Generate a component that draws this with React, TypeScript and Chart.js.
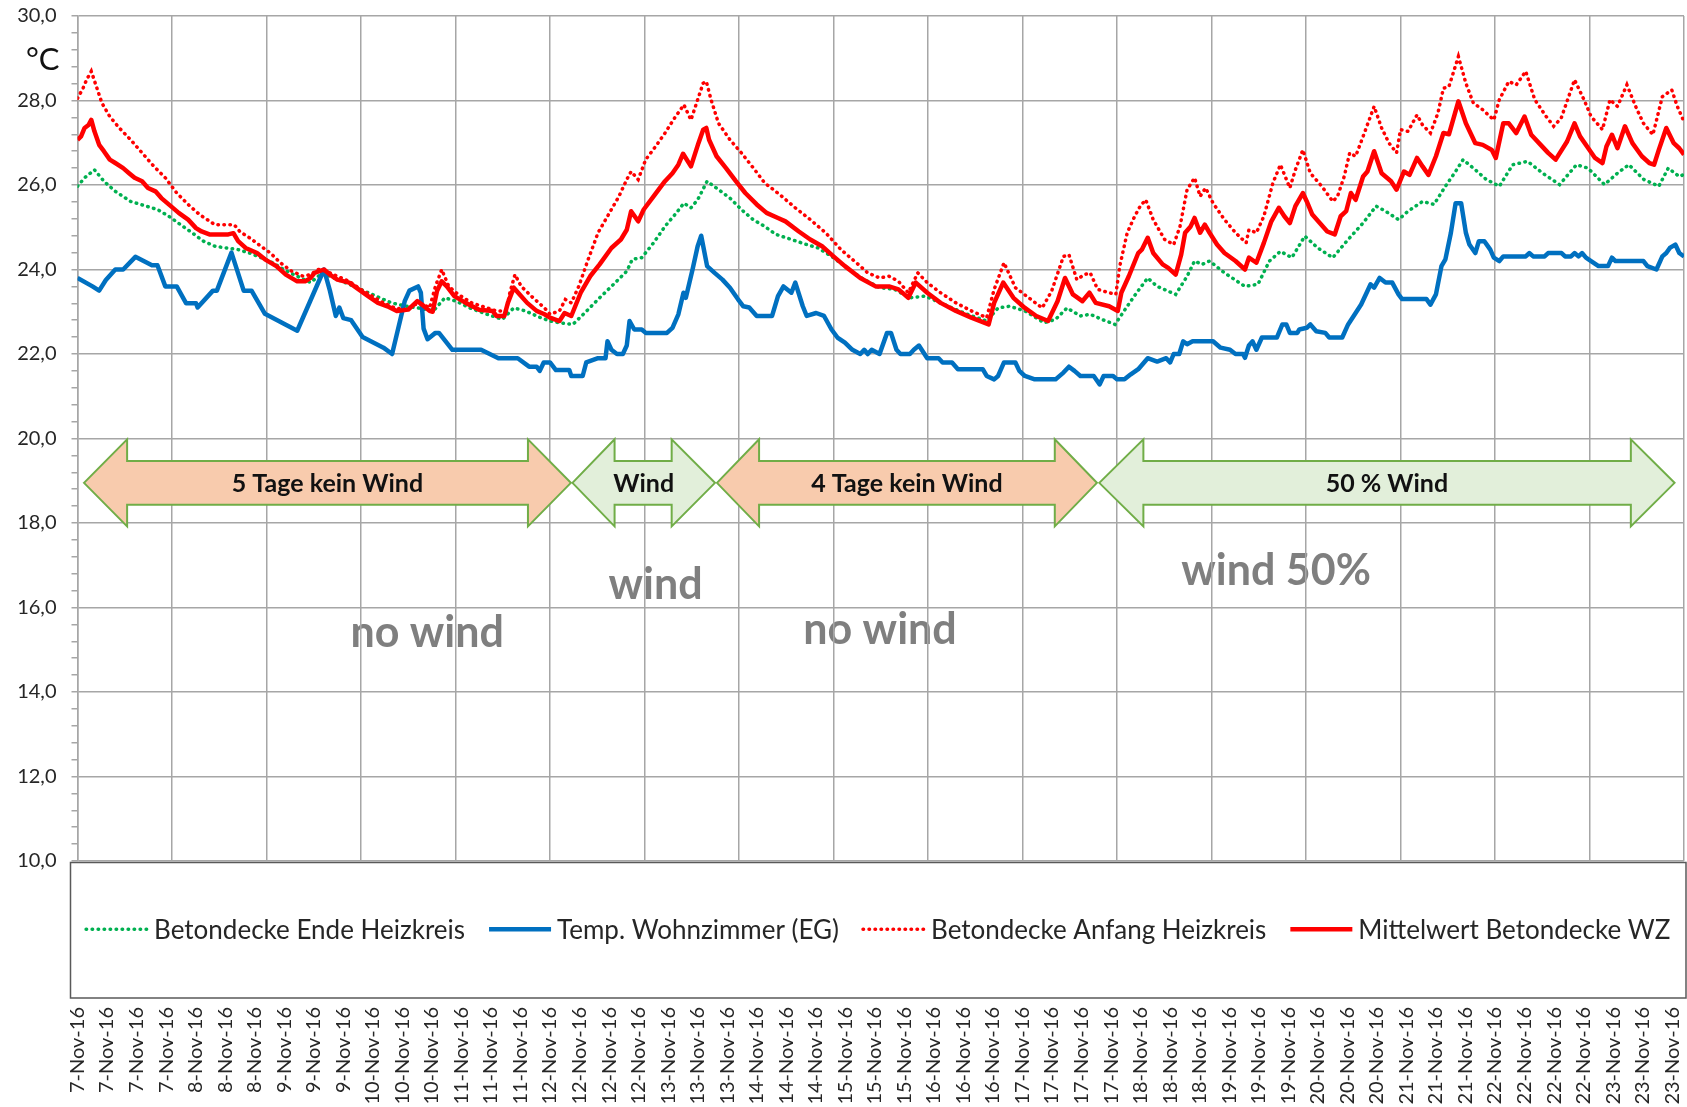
import React, { useEffect, useRef } from "react";
import { Chart, registerables } from "chart.js";

Chart.register(...registerables);

// ---------- category (tick) labels: one every 7.5 h, starting 7-Nov-16 00:00 ----------
const xLabels = [
  "7-Nov-16", "7-Nov-16", "7-Nov-16", "7-Nov-16",
  "8-Nov-16", "8-Nov-16", "8-Nov-16",
  "9-Nov-16", "9-Nov-16", "9-Nov-16",
  "10-Nov-16", "10-Nov-16", "10-Nov-16",
  "11-Nov-16", "11-Nov-16", "11-Nov-16",
  "12-Nov-16", "12-Nov-16", "12-Nov-16", "12-Nov-16",
  "13-Nov-16", "13-Nov-16", "13-Nov-16",
  "14-Nov-16", "14-Nov-16", "14-Nov-16",
  "15-Nov-16", "15-Nov-16", "15-Nov-16",
  "16-Nov-16", "16-Nov-16", "16-Nov-16",
  "17-Nov-16", "17-Nov-16", "17-Nov-16", "17-Nov-16",
  "18-Nov-16", "18-Nov-16", "18-Nov-16",
  "19-Nov-16", "19-Nov-16", "19-Nov-16",
  "20-Nov-16", "20-Nov-16", "20-Nov-16",
  "21-Nov-16", "21-Nov-16", "21-Nov-16",
  "22-Nov-16", "22-Nov-16", "22-Nov-16", "22-Nov-16",
  "23-Nov-16", "23-Nov-16", "23-Nov-16",
];
const LABEL_STEP_H = 7.5;
const GRID_STEP_H = 24;
const X_MAX_H = 408;
const yTickLabels = ["10,0", "12,0", "14,0", "16,0", "18,0", "20,0", "22,0", "24,0", "26,0", "28,0", "30,0"];

// ---------- series (hours since 7-Nov-16 00:00, °C) ----------
const endeHours = [0, 1.8, 4.3, 6.7, 9.6, 13.5, 17.4, 20.3, 23.2, 26.2, 29.1, 32, 34.9, 37.8, 40.8, 43.7, 46.6, 49.5, 52.4, 55.8, 59.2, 62.2, 65.1, 68, 71.9, 75.8, 79.7, 83.6, 86.5, 90.4, 93.3, 96.2, 99.6, 104, 107.9, 110.8, 113.7, 117.6,
  120, 122.4, 125.8, 128.8, 132.6, 135.6, 139.5, 140.9, 143.3, 146.3, 149.2, 152.1, 154, 155.8, 157.5, 159.9, 162.8, 165.7, 168.6, 171.6, 174.5, 177.4, 181.3, 185.2, 188.1, 192, 195.9, 199.8, 203.7, 207.5, 211.4, 215.3, 218.2, 222.1, 226, 230.9, 233.8, 236.7, 240.6, 245.5, 248.4, 251.3, 254.7, 257.2, 260.1, 263.5,
  266.6, 269, 271.8, 274.2, 278.9, 281.8, 283.7, 285.6, 287.5, 291.3, 296.5, 299.8, 302.7, 305.5, 308.4, 311.7, 315, 318.8, 322.7, 326.5, 329.8, 332.2, 335.5, 337.9, 341.6, 344.5, 347.4, 349.7, 351.9, 355, 357.8, 361.1, 364.5, 368.3, 372.1, 376.4, 380.7, 383.6, 387.8, 391.1, 394, 397.8, 401.6, 404, 406.8, 408];
const endeValues = [25.97, 26.17, 26.36, 26.09, 25.85, 25.61, 25.5, 25.42, 25.26, 25.06, 24.87, 24.67, 24.55, 24.51, 24.47, 24.39, 24.28, 24.16, 24.0, 23.84, 23.69, 23.92, 23.8, 23.69, 23.53, 23.37, 23.21, 23.13, 23.09, 23.02, 23.33, 23.25, 23.09, 22.94, 22.82, 23.09, 23.02, 22.86,
  22.78, 22.74, 22.7, 22.97, 23.33, 23.6, 23.96, 24.24, 24.28, 24.63, 25.02, 25.34, 25.57, 25.46, 25.65, 26.09, 25.89, 25.69, 25.42, 25.18, 25.02, 24.83, 24.71, 24.59, 24.51, 24.28, 24.0, 23.76, 23.57, 23.53, 23.33, 23.37, 23.25, 23.09, 22.94, 22.78, 23.09, 23.13, 23.02, 22.74, 22.82, 23.09, 22.9, 22.94, 22.82, 22.7,
  23.13, 23.45, 23.8, 23.6, 23.41, 23.84, 24.2, 24.12, 24.2, 23.92, 23.6, 23.65, 24.2, 24.43, 24.28, 24.79, 24.51, 24.28, 24.71, 25.1, 25.5, 25.38, 25.18, 25.38, 25.61, 25.54, 25.97, 26.28, 26.6, 26.36, 26.13, 25.97, 26.48, 26.56, 26.28, 26.01, 26.48, 26.4, 26.01, 26.28, 26.48, 26.13, 25.97, 26.4, 26.2, 26.25];

const tempHours = [0, 3.8, 5.5, 7.2, 9.6, 11.6, 14.7, 18.9, 20.3, 22.3, 25.2, 27.6, 30.1, 30.5, 34.4, 35.4, 39.1, 42.2, 44.2, 47.6, 55.8, 62.6, 64.1, 65.6, 66.5, 67.5, 69.5, 72.4, 77.7, 79.9, 83.1, 84.3, 86.5, 87.2, 87.9, 88.9, 90.9, 91.8, 95.2, 102.5, 106.9, 111.8, 114.7, 116.6, 117.4, 118.4, 120,
  121.5, 124.9, 125.4, 128.3, 129.2, 132.2, 134.1, 134.6, 135.6, 137, 138.5, 139.5, 140.2, 141.4, 143.3, 144.3, 149.7, 151.1, 152.6, 153.9, 154.5, 156.2, 157.5, 158.4, 159.9, 161.8, 163.8, 165.7, 167.7, 169.1, 170.6, 172.5, 176.4, 177.9, 179.3, 181.3, 182.3, 184.2, 185.2, 187.6, 189.6, 191.5, 193, 194.9, 196.8, 198.8, 199.8, 200.7, 201.7, 203.7, 205.6, 206.6, 208, 209, 211.4, 212.4, 213.7, 215.8, 218.7, 219.7, 222.1, 223.6, 229.9, 230.9, 232.8, 233.8, 235.3, 238.2, 239.2, 240.6, 243.1, 248.4, 250.4, 251.8, 253.2, 254.7, 258.1, 259.6, 260.6, 263, 264, 265.9,
  267.5, 269.4, 271.8, 274.2, 276.5, 277.5, 278.4, 279.8, 280.8, 281.8, 283.2, 288.4, 290.3, 292.7, 294.1, 296, 296.5, 297.5, 298.4, 299.4, 300.8, 304.6, 306, 307, 307.9, 309.8, 310.3, 312.2, 313.1, 314.6, 316.9, 317.9, 321.2, 322.7, 324.6, 326, 327.4, 328.4, 329.3, 330.7, 332.2, 333.9, 335.5, 336.4, 342.6, 343.6, 345, 346.4, 347.4, 348.8, 350, 351.4, 352.6, 353.5, 355, 355.9, 357.3, 358.8, 359.7, 361.1, 362.1, 367.8, 368.7, 369.7, 372.6, 373.5, 376.9, 377.8, 379.3, 380.2, 381.2, 382.1, 383.1, 384.4, 386.3, 388.7, 389.7, 390.6, 397.7, 398.7, 401, 402.5, 403.5, 404.4, 405.8, 406.8, 408];
const tempValues = [23.8, 23.6, 23.5, 23.75, 24.0, 24.0, 24.3, 24.1, 24.1, 23.6, 23.6, 23.2, 23.2, 23.1, 23.5, 23.5, 24.4, 23.5, 23.5, 22.95, 22.55, 24.0, 23.5, 22.9, 23.1, 22.85, 22.8, 22.4, 22.15, 22.0, 23.25, 23.5, 23.6, 23.45, 22.6, 22.35, 22.5, 22.5, 22.1, 22.1, 21.9, 21.9, 21.7, 21.7, 21.6, 21.8, 21.8,
  21.62, 21.62, 21.48, 21.48, 21.8, 21.9, 21.9, 22.3, 22.1, 22.0, 22.0, 22.2, 22.78, 22.58, 22.58, 22.5, 22.5, 22.62, 22.94, 23.45, 23.33, 24.0, 24.55, 24.8, 24.08, 23.92, 23.76, 23.57, 23.3, 23.13, 23.1, 22.9, 22.9, 23.37, 23.6, 23.45, 23.69, 23.13, 22.9, 22.97, 22.9, 22.58, 22.39, 22.27, 22.1, 22.0, 22.1, 22.0, 22.1, 22.0, 22.5, 22.5, 22.1, 22.0, 22.0, 22.1, 22.2, 21.9, 21.9, 21.8, 21.8, 21.64, 21.64, 21.48, 21.4, 21.48, 21.8, 21.8, 21.6, 21.48, 21.4, 21.4, 21.56, 21.7, 21.6, 21.48, 21.48, 21.28, 21.48, 21.48, 21.4, 21.4,
  21.52, 21.64, 21.9, 21.82, 21.9, 21.8, 22.0, 22.0, 22.3, 22.23, 22.3, 22.3, 22.15, 22.1, 22.0, 22.0, 21.91, 22.2, 22.3, 22.1, 22.39, 22.39, 22.7, 22.7, 22.5, 22.5, 22.58, 22.62, 22.7, 22.54, 22.5, 22.39, 22.39, 22.7, 22.97, 23.17, 23.45, 23.65, 23.57, 23.8, 23.69, 23.69, 23.41, 23.3, 23.3, 23.17, 23.41, 24.08, 24.24, 24.87, 25.57, 25.57, 24.87, 24.59, 24.39, 24.67, 24.67, 24.47, 24.28, 24.2, 24.31, 24.31, 24.39, 24.31, 24.31, 24.39, 24.39, 24.31, 24.31, 24.39, 24.31, 24.39, 24.28, 24.2, 24.08, 24.08, 24.28, 24.2, 24.2, 24.08, 24.0, 24.31, 24.39, 24.51, 24.59, 24.39, 24.31];

const anfangHours = [0, 1.4, 2.3, 3.5, 4.8, 6.2, 8.2, 10.6, 13.5, 16.4, 19.4, 22.3, 25.2, 28.1, 31, 34.9, 39.8, 41.2, 43.7, 46.6, 49, 51.5, 54.4, 57.3, 59.2, 61.2, 63.1, 66, 69, 71.9, 74.8, 77.7, 80.6, 83.6, 85.5, 88, 89.4, 90.9, 92.5, 94.3, 96.7, 100.1, 104, 106.4, 108.9, 109.8, 111.1, 112.7, 115.7, 118.6,
  120, 122.4, 123.9, 125.4, 127.3, 129.7, 132.2, 135.1, 137.5, 139.5, 140.6, 142.4, 144.3, 146.8, 149.2, 151.6, 154, 155.8, 157.5, 158.9, 159.7, 160.9, 162.8, 165.7, 168.6, 172, 174.5, 178.4, 182.3, 186.1, 190, 193.9, 197.8, 200.7, 203.7, 206.1, 208.5, 211, 213.4, 215.8, 219.2, 223.1, 227, 230.9, 232.8, 235.3, 238.2, 241.6, 245, 247.4, 250.4, 251.8, 253.8, 255.7, 257.2, 259.1, 262, 263.7,
  264.7, 266.6, 268.5, 269.9, 271.3, 273.2, 276.1, 278.4, 280, 281.8, 283.7, 285.1, 286.5, 288.4, 291.3, 294.1, 296.8, 297.5, 299.4, 301.3, 303.6, 305.5, 307.9, 309.3, 311.2, 313.1, 316, 318.8, 320, 321.7, 323.1, 324.6, 326.5, 329.3, 331.2, 333.1, 335, 336, 337.9, 340.2, 341.6, 343.6, 345.5, 346.9, 348.3, 350.7, 352.6, 354.5, 356.9, 359.7, 361.1, 363.5, 365.4, 367.8, 370.1, 373, 374.9, 376.8, 380.2, 382.6, 384.4, 387.3, 389.2, 391.1, 393.5, 395.9, 397.7, 400.1, 402.5, 404.9, 406.3, 408];
const anfangValues = [28.05, 28.29, 28.49, 28.69, 28.33, 27.94, 27.62, 27.35, 27.07, 26.76, 26.44, 26.17, 25.81, 25.54, 25.3, 25.06, 25.06, 24.9, 24.75, 24.55, 24.39, 24.16, 23.96, 23.84, 23.88, 24.0, 23.96, 23.84, 23.72, 23.53, 23.37, 23.21, 23.09, 23.05, 23.17, 23.17, 23.09, 23.6, 24.0, 23.6, 23.41, 23.21, 23.09, 23.02, 23.02, 23.45, 23.88, 23.6, 23.33, 23.09,
  22.94, 23.02, 23.29, 23.21, 23.6, 24.24, 24.87, 25.34, 25.73, 26.13, 26.32, 26.13, 26.6, 26.91, 27.23, 27.58, 27.9, 27.54, 28.02, 28.41, 28.45, 28.02, 27.46, 27.07, 26.76, 26.36, 26.05, 25.77, 25.46, 25.18, 24.87, 24.47, 24.16, 23.92, 23.8, 23.84, 23.72, 23.45, 23.92, 23.69, 23.45, 23.21, 23.02, 22.86, 23.53, 24.16, 23.57, 23.33, 23.09, 23.49, 24.31, 24.35, 23.76, 23.88, 23.92, 23.53, 23.45, 23.41,
  24.08, 24.87, 25.26, 25.5, 25.65, 25.18, 24.71, 24.59, 25.02, 25.89, 26.17, 25.73, 25.93, 25.57, 25.18, 24.87, 24.63, 24.94, 24.87, 25.26, 26.05, 26.48, 25.93, 26.36, 26.83, 26.28, 25.97, 25.61, 25.73, 26.2, 26.76, 26.68, 27.15, 27.86, 27.35, 26.99, 26.76, 27.31, 27.27, 27.66, 27.42, 27.23, 27.7, 28.29, 28.33, 29.04, 28.41, 27.94, 27.78, 27.54, 28.02, 28.45, 28.37, 28.69, 28.02, 27.62, 27.39, 27.58, 28.49, 28.02, 27.62, 27.31, 28.02, 27.86, 28.37, 27.82, 27.46, 27.19, 28.09, 28.25, 27.86, 27.5];

const mittelHours = [0, 0.9, 1.8, 2.8, 3.5, 4.3, 5.5, 6.7, 8.2, 9.6, 11.6, 13.1, 14.5, 16.4, 17.9, 19.8, 21.3, 23.7, 25.7, 28.1, 30.1, 31.5, 33.5, 38.3, 39.6, 40.8, 42.7, 45.6, 47.6, 50.5, 52.9, 55.8, 57.8, 59.2, 60.2, 62.6, 64.1, 66, 69, 71.4, 73.8, 76.3, 78.7, 81.1, 84, 86.3, 87.5, 89.4, 90.2, 91.3, 92.5, 93.8, 95.7, 98.6, 102, 105.4, 106.4, 108.4, 109.3, 110.8, 112.3, 114.2, 116.6, 118.6,
  120, 122.4, 123.7, 125.4, 127.8, 130.2, 132.6, 135.6, 138, 139.5, 140.6, 142.4, 143.8, 146.3, 149.2, 151.1, 152.6, 153.8, 155.8, 157.7, 158.9, 159.7, 160.4, 162.3, 164.7, 167.2, 169.6, 172.5, 175, 177.9, 179.8, 183.2, 186.1, 189.1, 192, 194.9, 198.8, 202.7, 206.1, 208.5, 211, 212.9, 215.8, 219.2, 223.1, 227, 231.4, 232.8, 235.1, 237.7, 240.6, 243.5, 246.5, 248.9, 250.8, 252.8, 255.2, 257, 258.6, 262, 264.2,
  265.1, 267, 269.4, 270.3, 271.8, 273.2, 275.6, 277, 278.9, 280.3, 281.3, 282.7, 283.7, 285.1, 286.3, 287.5, 289.4, 291.3, 294.1, 296.5, 297.5, 299.4, 301.3, 303.2, 305.1, 306.5, 307.9, 309.3, 311.2, 312.2, 313.6, 315.5, 317.4, 319.3, 320.8, 322.2, 323.4, 324.6, 326.5, 327.6, 329.3, 331.2, 333.6, 335, 336.9, 338.3, 340.2, 341.6, 343.1, 345, 346.9, 348.3, 350.7, 352.6, 355, 356.9, 359.2, 360.2, 362.1, 363.5, 365.4, 367.5, 369.2, 371.6, 373.5, 375.4, 378.3, 380.2, 381.6, 384, 385.4, 387.3, 388.3, 389.7, 391.1, 393, 394.9, 397.3, 399.2, 400.4, 401.6, 403.5, 405.4, 406.8, 408];
const mittelValues = [27.07, 27.15, 27.35, 27.42, 27.54, 27.27, 26.95, 26.8, 26.6, 26.52, 26.4, 26.28, 26.17, 26.09, 25.93, 25.85, 25.69, 25.5, 25.34, 25.18, 24.98, 24.9, 24.83, 24.83, 24.86, 24.67, 24.51, 24.39, 24.24, 24.08, 23.88, 23.72, 23.72, 23.8, 23.92, 24.0, 23.88, 23.76, 23.69, 23.53, 23.37, 23.21, 23.13, 23.02, 23.05, 23.25, 23.17, 23.02, 23.0, 23.49, 23.72, 23.6, 23.37, 23.21, 23.05, 23.02, 22.9, 22.9, 23.21, 23.57, 23.41, 23.21, 23.02, 22.94,
  22.86, 22.78, 22.97, 22.9, 23.45, 23.84, 24.12, 24.51, 24.71, 24.94, 25.38, 25.14, 25.42, 25.73, 26.09, 26.28, 26.48, 26.74, 26.44, 26.99, 27.31, 27.35, 27.07, 26.68, 26.4, 26.09, 25.81, 25.54, 25.34, 25.22, 25.14, 24.9, 24.71, 24.55, 24.31, 24.08, 23.8, 23.6, 23.6, 23.53, 23.33, 23.69, 23.45, 23.21, 23.02, 22.86, 22.7, 23.21, 23.69, 23.33, 23.09, 22.9, 22.78, 23.25, 23.8, 23.41, 23.25, 23.45, 23.21, 23.13, 23.02,
  23.45, 23.84, 24.39, 24.47, 24.75, 24.39, 24.12, 24.04, 23.88, 24.35, 24.87, 25.02, 25.22, 24.87, 25.06, 24.87, 24.59, 24.39, 24.2, 24.0, 24.28, 24.16, 24.63, 25.14, 25.46, 25.26, 25.1, 25.5, 25.81, 25.61, 25.3, 25.1, 24.9, 24.83, 25.26, 25.38, 25.81, 25.65, 26.2, 26.32, 26.8, 26.28, 26.09, 25.89, 26.32, 26.24, 26.64, 26.44, 26.24, 26.68, 27.23, 27.2, 27.98, 27.46, 26.99, 26.95, 26.83, 26.64, 27.46, 27.46, 27.23, 27.62, 27.19, 26.95, 26.76, 26.6, 27.03, 27.46, 27.15, 26.83, 26.64, 26.52, 26.91, 27.19, 26.87, 27.39, 26.99, 26.68, 26.52, 26.48, 26.83, 27.35, 26.99, 26.87, 26.72];

// ---------- annotations (hours / °C) ----------
const arrowLabels = ["5 Tage kein Wind", "Wind", "4 Tage kein Wind", "50 % Wind"];
const arrowTipLeft = [1.65, 125.7, 162.4, 259.5];
const arrowHeadLeft = [12.6, 136.4, 173.1, 270.7];
const arrowHeadRight = [114.4, 150.9, 248.2, 394.5];
const arrowTipRight = [125.3, 161.9, 258.9, 405.6];
const arrowKind = ["calm", "wind", "calm", "wind"];

const noteTexts = ["no wind", "wind", "no wind", "wind 50%"];
const noteHours = [88.8, 146.8, 203.8, 304.4];
const noteBaselines = [15.07, 16.2, 15.14, 16.53];

const FONT = "Lato, 'Open Sans', sans-serif";
const GRID = "#a6a6a6";

const pts = (hs: number[], vs: number[]) => hs.map((h, i) => ({ x: h, y: vs[i] }));
const near = (a: number, b: number) => Math.abs(a - b) < 1e-6;

const annotationPlugin = {
  id: "windAnnotations",
  beforeDraw(chart: any) {
    const { ctx, scales } = chart;
    const x = scales.x, y = scales.y;
    ctx.save();
    ctx.fillStyle = "#7f7f7f";
    ctx.font = `bold 43px ${FONT}`;
    ctx.textAlign = "center";
    ctx.textBaseline = "alphabetic";
    noteTexts.forEach((t, i) => {
      ctx.fillText(t, x.getPixelForValue(noteHours[i]), y.getPixelForValue(noteBaselines[i]));
    });
    ctx.restore();
  },
  beforeDatasetsDraw(chart: any) {
    const { ctx, scales } = chart;
    const x = scales.x, y = scales.y;
    const yc = y.getPixelForValue(18.95);
    const headHalf = y.getPixelForValue(17.92) - yc;
    const shaftHalf = y.getPixelForValue(18.43) - yc;
    ctx.save();
    arrowLabels.forEach((lab, i) => {
      const x0 = x.getPixelForValue(arrowTipLeft[i]);
      const x1 = x.getPixelForValue(arrowHeadLeft[i]);
      const x2 = x.getPixelForValue(arrowHeadRight[i]);
      const x3 = x.getPixelForValue(arrowTipRight[i]);
      ctx.beginPath();
      ctx.moveTo(x0, yc);
      ctx.lineTo(x1, yc - headHalf);
      ctx.lineTo(x1, yc - shaftHalf);
      ctx.lineTo(x2, yc - shaftHalf);
      ctx.lineTo(x2, yc - headHalf);
      ctx.lineTo(x3, yc);
      ctx.lineTo(x2, yc + headHalf);
      ctx.lineTo(x2, yc + shaftHalf);
      ctx.lineTo(x1, yc + shaftHalf);
      ctx.lineTo(x1, yc + headHalf);
      ctx.closePath();
      ctx.fillStyle = arrowKind[i] === "calm" ? "#f8cbad" : "#e2efda";
      ctx.fill();
      ctx.lineWidth = 2;
      ctx.lineJoin = "miter";
      ctx.strokeStyle = "#70ad47";
      ctx.stroke();
      ctx.fillStyle = "#111111";
      ctx.font = `bold 25px ${FONT}`;
      ctx.textAlign = "center";
      ctx.textBaseline = "alphabetic";
      ctx.fillText(lab, (x0 + x3) / 2, y.getPixelForValue(18.73));
    });
    ctx.restore();
  },
  afterDraw(chart: any) {
    const { ctx, chartArea } = chart;
    ctx.save();
    // unit label
    ctx.fillStyle = "#111111";
    ctx.font = `31px ${FONT}`;
    ctx.textAlign = "left";
    ctx.textBaseline = "alphabetic";
    ctx.fillText("°C", 26, 70);

    // legend box (overlays the lower part of the chart, as in the original)
    const bx = chartArea.left - 7;
    const by = chartArea.bottom + 1.5;
    const bw = chart.width - 1 - bx;
    const bh = 998 - by;
    ctx.fillStyle = "#ffffff";
    ctx.fillRect(bx, by, bw, bh);
    ctx.lineWidth = 1.5;
    ctx.strokeStyle = "#595959";
    ctx.strokeRect(bx, by, bw, bh);

    const ds = chart.data.datasets;
    ctx.font = `26px ${FONT}`;
    const sample = 62, gapSample = 6, gapItem = 24;
    const widths = ds.map((d: any) => ctx.measureText(d.label).width);
    const total = widths.reduce((a: number, b: number) => a + b, 0) + ds.length * (sample + gapSample) + (ds.length - 1) * gapItem;
    let cx = bx + bw / 2 - total / 2;
    const ly = by + bh / 2 - 1;
    ds.forEach((d: any, i: number) => {
      ctx.save();
      ctx.beginPath();
      ctx.strokeStyle = d.borderColor;
      ctx.lineWidth = d.borderWidth;
      ctx.lineCap = d.borderDash && d.borderDash.length ? "round" : "butt";
      ctx.setLineDash(d.borderDash || []);
      ctx.moveTo(cx, ly);
      ctx.lineTo(cx + sample, ly);
      ctx.stroke();
      ctx.restore();
      cx += sample + gapSample;
      ctx.fillStyle = "#262626";
      ctx.textAlign = "left";
      ctx.textBaseline = "middle";
      ctx.fillText(d.label, cx, ly + 1);
      cx += widths[i] + gapItem;
    });
    ctx.restore();
  },
};

export default function App() {
  const canvasRef = useRef<HTMLCanvasElement | null>(null);

  useEffect(() => {
    if (!canvasRef.current) return;
    const chart = new Chart(canvasRef.current, {
      type: "line",
      data: {
        datasets: [
          {
            label: "Betondecke Ende Heizkreis",
            data: pts(endeHours, endeValues),
            borderColor: "#00b050",
            borderWidth: 3.5,
            borderDash: [0.5, 5.5],
            borderCapStyle: "round",
            pointRadius: 0,
            tension: 0,
            order: 4,
          },
          {
            label: "Temp. Wohnzimmer (EG)",
            data: pts(tempHours, tempValues),
            borderColor: "#0070c0",
            borderWidth: 4.5,
            borderJoinStyle: "round",
            pointRadius: 0,
            tension: 0,
            order: 3,
          },
          {
            label: "Betondecke Anfang Heizkreis",
            data: pts(anfangHours, anfangValues),
            borderColor: "#ff0000",
            borderWidth: 3.5,
            borderDash: [0.5, 5.5],
            borderCapStyle: "round",
            pointRadius: 0,
            tension: 0,
            order: 2,
          },
          {
            label: "Mittelwert Betondecke WZ",
            data: pts(mittelHours, mittelValues),
            borderColor: "#ff0000",
            borderWidth: 4.5,
            borderJoinStyle: "round",
            pointRadius: 0,
            tension: 0,
            order: 1,
          },
        ] as any,
      },
      options: {
        animation: false,
        responsive: true,
        maintainAspectRatio: false,
        layout: { padding: { left: 0, top: 16, right: 3, bottom: 0 } },
        plugins: { legend: { display: false }, tooltip: { enabled: false } },
        events: [],
        scales: {
          x: {
            type: "linear",
            min: 0,
            max: X_MAX_H,
            ticks: {
              stepSize: 1.5,
              autoSkip: false,
              maxRotation: 90,
              minRotation: 90,
              padding: 146,
              color: "#262626",
              font: { family: FONT, size: 20 },
              callback: (v: any) => {
                const k = Number(v) / LABEL_STEP_H;
                const r = Math.round(k);
                return near(k, r) && xLabels[r] ? xLabels[r] : "";
              },
            },
            grid: {
              color: (c: any) => (c.tick && near(c.tick.value % GRID_STEP_H, 0) ? GRID : "rgba(0,0,0,0)"),
              lineWidth: 1.5,
              drawTicks: false,
            },
            border: { display: false },
            afterFit: (s: any) => {
              s.height = 246;
              s.paddingLeft = 0;
              s.paddingRight = 0;
            },
          } as any,
          y: {
            min: 10,
            max: 30,
            ticks: {
              stepSize: 0.4,
              autoSkip: false,
              padding: 15,
              color: "#262626",
              font: { family: FONT, size: 20 },
              callback: (v: any) => {
                const k = (Number(v) - 10) / 2;
                const r = Math.round(k);
                return near(k, r) ? yTickLabels[r] ?? "" : "";
              },
            },
            grid: {
              color: (c: any) => {
                if (!c.tick) return "rgba(0,0,0,0)";
                const k = (c.tick.value - 10) / 2;
                return near(k, Math.round(k)) ? GRID : "rgba(0,0,0,0)";
              },
              lineWidth: 1.5,
              tickLength: 6,
              tickColor: GRID,
              tickWidth: 1.5,
            },
            border: { color: GRID, width: 1.5 },
            afterFit: (s: any) => {
              s.width = 77.5;
              s.paddingTop = 0;
              s.paddingBottom = 0;
            },
          } as any,
        },
      },
      plugins: [annotationPlugin as any],
    });
    return () => chart.destroy();
  }, []);

  return (
    <div style={{ position: "absolute", left: 0, top: 0, width: 1687, height: 1107, background: "#fff", overflow: "hidden" }}>
      <canvas ref={canvasRef} />
    </div>
  );
}
